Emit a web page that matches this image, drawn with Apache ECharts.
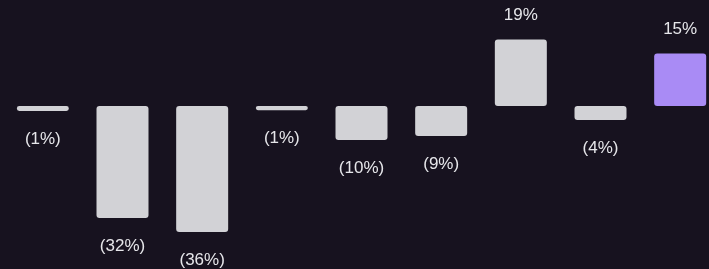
<!DOCTYPE html>
<html><head><meta charset="utf-8">
<script src="https://cdn.jsdelivr.net/npm/echarts@6/dist/echarts.min.js"></script>
<style>html,body{margin:0;padding:0;background:#17121f;}#c{width:709px;height:269px;}</style>
</head><body><div id="c"></div>
<script>
const categories = ['A','B','C','D','E','F','G','H','I'];
const values = [-1.4, -32, -36, -1.2, -9.7, -8.6, 19, -4, 15];
const highlightIndex = 8;

const chart = echarts.init(document.getElementById('c'), null, {renderer:'canvas'});
chart.setOption({
  backgroundColor: '#17121f',
  animation: false,
  grid: {left: 3, width: 717, top: 1, height: 245, outerBoundsMode: 'none', containLabel: false},
  xAxis: {type:'category', data: categories, show:false},
  yAxis: {type:'value', min:-40, max:30, show:false},
  series: [{
    type:'bar',
    barWidth: 52,
    data: values.map((v,i)=>({
      value:v,
      itemStyle:{color: i===highlightIndex ? '#a98bf5' : '#d2d2d6'},
      label:{distance: v < 0 ? 20 : 16}
    })),
    itemStyle: {borderRadius: 3},
    label: {
      show: true,
      position: 'outside',
      color: '#e6e6ea',
      fontFamily: 'Liberation Sans, Arial, sans-serif',
      fontSize: 17,
      formatter: p => { const r = Math.round(Math.abs(p.value)); return p.value < 0 ? '(' + r + '%)' : r + '%'; }
    }
  }]
});
</script></body></html>
